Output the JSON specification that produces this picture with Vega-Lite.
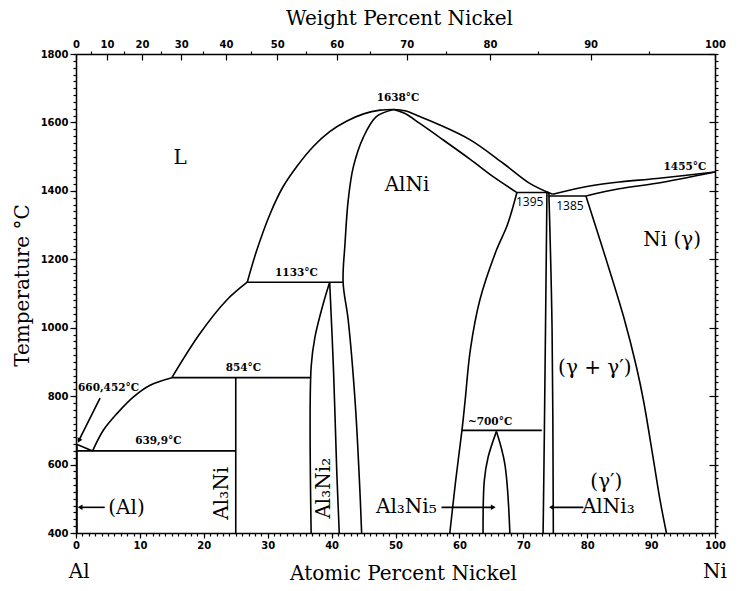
{
  "$schema": "https://vega.github.io/schema/vega-lite/v6.json",
  "width": 639,
  "height": 479,
  "autosize": {"type": "none"},
  "padding": {"left": 76, "top": 54, "right": 32, "bottom": 58},
  "background": "white",
  "config": {
    "view": {"stroke": null},
    "axis": {
      "grid": false,
      "domainColor": "black",
      "domainWidth": 1.5,
      "tickColor": "black",
      "tickWidth": 1.2,
      "labelColor": "black",
      "labelFont": "DejaVu Sans",
      "labelFontSize": 10,
      "labelFontWeight": "bold",
      "titleColor": "black",
      "titleFont": "DejaVu Serif",
      "titleFontSize": 20,
      "titleFontWeight": "normal"
    }
  },
  "datasets": {
    "lines": [
      {"s": "S1", "o": 1, "x": 0, "T": 660}, {"s": "S1", "o": 2, "x": 2.6, "T": 640},
      {"s": "S2", "o": 1, "x": 2.6, "T": 640}, {"s": "S2", "o": 2, "x": 4.3, "T": 701}, {"s": "S2", "o": 3, "x": 6.4, "T": 749}, {"s": "S2", "o": 4, "x": 9.0, "T": 798}, {"s": "S2", "o": 5, "x": 11.6, "T": 832}, {"s": "S2", "o": 6, "x": 15.0, "T": 854},
      {"s": "S3", "o": 1, "x": 15.0, "T": 854}, {"s": "S3", "o": 2, "x": 19.4, "T": 983}, {"s": "S3", "o": 3, "x": 23.6, "T": 1081}, {"s": "S3", "o": 4, "x": 26.8, "T": 1133},
      {"s": "S4", "o": 1, "x": 26.8, "T": 1133}, {"s": "S4", "o": 2, "x": 28.3, "T": 1227}, {"s": "S4", "o": 3, "x": 30.4, "T": 1334}, {"s": "S4", "o": 4, "x": 32.4, "T": 1412}, {"s": "S4", "o": 5, "x": 34.5, "T": 1470}, {"s": "S4", "o": 6, "x": 37.1, "T": 1529}, {"s": "S4", "o": 7, "x": 39.7, "T": 1573}, {"s": "S4", "o": 8, "x": 42.4, "T": 1604}, {"s": "S4", "o": 9, "x": 45.0, "T": 1625}, {"s": "S4", "o": 10, "x": 47.6, "T": 1636}, {"s": "S4", "o": 11, "x": 49.7, "T": 1638},
      {"s": "S5", "o": 1, "x": 49.7, "T": 1638}, {"s": "S5", "o": 2, "x": 51.5, "T": 1634}, {"s": "S5", "o": 3, "x": 53.8, "T": 1617}, {"s": "S5", "o": 4, "x": 56.4, "T": 1597}, {"s": "S5", "o": 5, "x": 61.7, "T": 1549}, {"s": "S5", "o": 6, "x": 66.9, "T": 1480}, {"s": "S5", "o": 7, "x": 71.0, "T": 1422}, {"s": "S5", "o": 8, "x": 74.6, "T": 1390},
      {"s": "S6", "o": 1, "x": 49.7, "T": 1638}, {"s": "S6", "o": 2, "x": 47.0, "T": 1617}, {"s": "S6", "o": 3, "x": 45.0, "T": 1558}, {"s": "S6", "o": 4, "x": 43.4, "T": 1470}, {"s": "S6", "o": 5, "x": 42.6, "T": 1373}, {"s": "S6", "o": 6, "x": 42.1, "T": 1246}, {"s": "S6", "o": 7, "x": 41.8, "T": 1133}, {"s": "S6", "o": 8, "x": 42.6, "T": 1022}, {"s": "S6", "o": 9, "x": 43.7, "T": 779}, {"s": "S6", "o": 10, "x": 44.4, "T": 535}, {"s": "S6", "o": 11, "x": 44.7, "T": 400},
      {"s": "S7", "o": 1, "x": 49.7, "T": 1638}, {"s": "S7", "o": 2, "x": 51.5, "T": 1626}, {"s": "S7", "o": 3, "x": 53.8, "T": 1597}, {"s": "S7", "o": 4, "x": 57.0, "T": 1555}, {"s": "S7", "o": 5, "x": 61.7, "T": 1492}, {"s": "S7", "o": 6, "x": 65.0, "T": 1445}, {"s": "S7", "o": 7, "x": 69.0, "T": 1395},
      {"s": "S8", "o": 1, "x": 26.8, "T": 1133}, {"s": "S8", "o": 2, "x": 41.8, "T": 1133},
      {"s": "S9", "o": 1, "x": 15.0, "T": 854}, {"s": "S9", "o": 2, "x": 36.8, "T": 854},
      {"s": "S10", "o": 1, "x": 0, "T": 640}, {"s": "S10", "o": 2, "x": 25, "T": 640},
      {"s": "S11", "o": 1, "x": 25, "T": 400}, {"s": "S11", "o": 2, "x": 25, "T": 854},
      {"s": "S12", "o": 1, "x": 0.15, "T": 400}, {"s": "S12", "o": 2, "x": 0.15, "T": 660},
      {"s": "S13", "o": 1, "x": 39.7, "T": 1133}, {"s": "S13", "o": 2, "x": 38.7, "T": 1071}, {"s": "S13", "o": 3, "x": 37.4, "T": 973}, {"s": "S13", "o": 4, "x": 36.8, "T": 886}, {"s": "S13", "o": 5, "x": 36.8, "T": 400},
      {"s": "S14", "o": 1, "x": 39.7, "T": 1133}, {"s": "S14", "o": 2, "x": 40.3, "T": 876}, {"s": "S14", "o": 3, "x": 40.8, "T": 584}, {"s": "S14", "o": 4, "x": 41.2, "T": 400},
      {"s": "S15", "o": 1, "x": 69.0, "T": 1395}, {"s": "S15", "o": 2, "x": 67.5, "T": 1300}, {"s": "S15", "o": 3, "x": 65.8, "T": 1227}, {"s": "S15", "o": 4, "x": 63.2, "T": 1081}, {"s": "S15", "o": 5, "x": 61.7, "T": 934}, {"s": "S15", "o": 6, "x": 60.9, "T": 788}, {"s": "S15", "o": 7, "x": 60.4, "T": 700}, {"s": "S15", "o": 8, "x": 59.4, "T": 550}, {"s": "S15", "o": 9, "x": 58.5, "T": 400},
      {"s": "S16", "o": 1, "x": 60.4, "T": 700}, {"s": "S16", "o": 2, "x": 72.9, "T": 700},
      {"s": "S17", "o": 1, "x": 65.8, "T": 697}, {"s": "S17", "o": 2, "x": 64.5, "T": 622}, {"s": "S17", "o": 3, "x": 63.9, "T": 554}, {"s": "S17", "o": 4, "x": 63.7, "T": 400},
      {"s": "S18", "o": 1, "x": 65.8, "T": 697}, {"s": "S18", "o": 2, "x": 67.1, "T": 603}, {"s": "S18", "o": 3, "x": 67.9, "T": 400},
      {"s": "S19", "o": 1, "x": 73.7, "T": 1395}, {"s": "S19", "o": 2, "x": 73.3, "T": 700}, {"s": "S19", "o": 3, "x": 73.1, "T": 400},
      {"s": "S20", "o": 1, "x": 74.0, "T": 1395}, {"s": "S20", "o": 2, "x": 74.5, "T": 1000}, {"s": "S20", "o": 3, "x": 74.7, "T": 400},
      {"s": "S21", "o": 1, "x": 69.0, "T": 1395}, {"s": "S21", "o": 2, "x": 74.0, "T": 1395},
      {"s": "S22", "o": 1, "x": 74.0, "T": 1385}, {"s": "S22", "o": 2, "x": 79.8, "T": 1385},
      {"s": "S23", "o": 1, "x": 74.6, "T": 1390}, {"s": "S23", "o": 2, "x": 80.4, "T": 1414}, {"s": "S23", "o": 3, "x": 85.0, "T": 1426}, {"s": "S23", "o": 4, "x": 90.9, "T": 1436}, {"s": "S23", "o": 5, "x": 100, "T": 1455},
      {"s": "S24", "o": 1, "x": 79.8, "T": 1385}, {"s": "S24", "o": 2, "x": 85.0, "T": 1406}, {"s": "S24", "o": 3, "x": 90.9, "T": 1422}, {"s": "S24", "o": 4, "x": 100, "T": 1455},
      {"s": "S25", "o": 1, "x": 79.8, "T": 1385}, {"s": "S25", "o": 2, "x": 82.5, "T": 1227}, {"s": "S25", "o": 3, "x": 85.7, "T": 1032}, {"s": "S25", "o": 4, "x": 87.7, "T": 886}, {"s": "S25", "o": 5, "x": 88.8, "T": 788}, {"s": "S25", "o": 6, "x": 90.3, "T": 622}, {"s": "S25", "o": 7, "x": 91.4, "T": 496}, {"s": "S25", "o": 8, "x": 92.4, "T": 400},
      {"s": "A1", "o": 1, "x": 3.76, "T": 794}, {"s": "A1", "o": 2, "x": 0.5, "T": 672},
      {"s": "A2", "o": 1, "x": 4.5, "T": 475}, {"s": "A2", "o": 2, "x": 0.6, "T": 475},
      {"s": "A3", "o": 1, "x": 57.2, "T": 475}, {"s": "A3", "o": 2, "x": 65.3, "T": 475},
      {"s": "A4", "o": 1, "x": 79.4, "T": 475}, {"s": "A4", "o": 2, "x": 74.4, "T": 475}
    ],
    "heads": [
      {"x": 0.45, "T": 670, "shape": "triangle-up", "a": 207},
      {"x": 0.65, "T": 475, "shape": "triangle-left", "a": 0},
      {"x": 65.3, "T": 475, "shape": "triangle-right", "a": 0},
      {"x": 74.4, "T": 475, "shape": "triangle-left", "a": 0}
    ],
    "dummy": [{"x": 0, "T": 400}],
    "phases": [
      {"t": "L", "x": 16.3, "T": 1496},
      {"t": "AlNi", "x": 51.8, "T": 1417},
      {"t": "Ni (γ)", "x": 93.3, "T": 1256},
      {"t": "(γ + γ′)", "x": 81.2, "T": 882},
      {"t": "(γ′)", "x": 83.0, "T": 550},
      {"t": "(Al)", "x": 7.9, "T": 472},
      {"t": "Al₃Ni₅", "x": 51.7, "T": 475},
      {"t": "AlNi₃", "x": 83.3, "T": 475},
      {"t": "Al", "x": 0.5, "T": 285},
      {"t": "Ni", "x": 100, "T": 285}
    ],
    "vert": [
      {"t": "Al₃Ni", "x": 22.8, "T": 516},
      {"t": "Al₃Ni₂", "x": 38.8, "T": 531}
    ],
    "temps": [
      {"t": "1638°C", "x": 50.4, "T": 1670},
      {"t": "1133°C", "x": 34.5, "T": 1159},
      {"t": "854°C", "x": 26.2, "T": 881},
      {"t": "639,9°C", "x": 12.9, "T": 669},
      {"t": "660,452°C", "x": 5.1, "T": 825},
      {"t": "~700°C", "x": 64.8, "T": 725},
      {"t": "1455°C", "x": 95.3, "T": 1470}
    ],
    "sans": [
      {"t": "1395", "x": 71.0, "T": 1368},
      {"t": "1385", "x": 77.3, "T": 1356}
    ]
  },
  "resolve": {"axis": {"x": "independent", "y": "independent"}},
  "layer": [
    {
      "data": {"name": "lines"},
      "mark": {"type": "line", "stroke": "black", "strokeWidth": 1.6, "clip": false, "interpolate": "catmull-rom"},
      "encoding": {
        "x": {"field": "x", "type": "quantitative", "scale": {"domain": [0, 100], "nice": false, "zero": false},
          "axis": {"orient": "bottom", "values": [0, 10, 20, 30, 40, 50, 60, 70, 80, 90, 100], "format": "d", "tickSize": 5, "labelPadding": 2, "title": "Atomic Percent Nickel", "titleX": 327, "titleY": 40, "titleAlign": "center", "titleBaseline": "middle", "labelFlush": false}},
        "y": {"field": "T", "type": "quantitative", "scale": {"domain": [400, 1800], "nice": false, "zero": false},
          "axis": {"orient": "left", "values": [400, 600, 800, 1000, 1200, 1400, 1600, 1800], "format": "d", "tickSize": 6, "labelPadding": 2, "title": "Temperature °C", "titleX": -54, "titleY": 231, "titleAngle": 270, "titleAlign": "center", "titleBaseline": "middle", "labelFlush": false}},
        "detail": {"field": "s"},
        "order": {"field": "o", "type": "quantitative"}
      }
    },
    {
      "data": {"name": "dummy"},
      "mark": {"type": "point", "opacity": 0},
      "encoding": {
        "x": {"field": "x", "type": "quantitative", "scale": {"domain": [0, 100], "nice": false, "zero": false},
          "axis": {"orient": "bottom", "tickCount": 100, "labels": false, "domain": false, "title": null, "tickSize": 3}},
        "y": {"field": "T", "type": "quantitative", "scale": {"domain": [400, 1800], "nice": false, "zero": false},
          "axis": {"orient": "left", "tickCount": 70, "labels": false, "domain": false, "title": null, "tickSize": 3}}
      }
    },
    {
      "data": {"name": "dummy"},
      "mark": {"type": "point", "opacity": 0},
      "encoding": {
        "x": {"field": "x", "type": "quantitative", "scale": {"domain": [0, 100], "nice": false, "zero": false},
          "axis": {"orient": "top", "values": [0, 4.86, 10.31, 16.46, 23.46, 31.49, 40.81, 51.75, 64.77, 80.53, 100], "labelExpr": "round(5869*datum.value/(58.69*datum.value+26.98*(100-datum.value)))", "ticks": false, "tickSize": 0, "labelPadding": 5, "labelFlush": false, "title": "Weight Percent Nickel", "titleX": 323, "titleY": -36, "titleAlign": "center", "titleBaseline": "middle"}},
        "y": {"field": "T", "type": "quantitative", "scale": {"domain": [400, 1800], "nice": false, "zero": false},
          "axis": {"orient": "right", "values": [400, 600, 800, 1000, 1200, 1400, 1600, 1800], "labels": false, "title": null, "tickSize": -6}}
      }
    },
    {
      "data": {"name": "dummy"},
      "mark": {"type": "point", "opacity": 0},
      "encoding": {
        "x": {"field": "x", "type": "quantitative", "scale": {"domain": [0, 100], "nice": false, "zero": false},
          "axis": {"orient": "top", "values": [0, 4.86, 10.31, 16.46, 23.46, 31.49, 40.81, 51.75, 64.77, 80.53, 100], "labels": false, "domain": false, "title": null, "tickSize": -6}},
        "y": {"field": "T", "type": "quantitative", "scale": {"domain": [400, 1800], "nice": false, "zero": false},
          "axis": {"orient": "right", "tickCount": 70, "labels": false, "domain": false, "title": null, "tickSize": 3}}
      }
    },
    {
      "data": {"name": "dummy"},
      "mark": {"type": "point", "opacity": 0},
      "encoding": {
        "x": {"field": "x", "type": "quantitative", "scale": {"domain": [0, 100], "nice": false, "zero": false},
          "axis": {"orient": "top", "values": [2.36, 7.50, 13.29, 19.84, 27.33, 35.97, 46.06, 57.97, 72.26, 89.73], "labels": false, "domain": false, "title": null, "tickSize": 3}}
      }
    },
    {
      "data": {"name": "heads"},
      "mark": {"type": "point", "filled": true, "color": "black", "size": 30, "opacity": 1},
      "encoding": {
        "x": {"field": "x", "type": "quantitative", "scale": {"domain": [0, 100], "nice": false, "zero": false}, "axis": null},
        "y": {"field": "T", "type": "quantitative", "scale": {"domain": [400, 1800], "nice": false, "zero": false}, "axis": null},
        "shape": {"field": "shape", "type": "nominal", "scale": null},
        "angle": {"field": "a", "type": "quantitative", "scale": null}
      }
    },
    {
      "data": {"name": "phases"},
      "mark": {"type": "text", "font": "DejaVu Serif", "fontSize": 20, "color": "black", "align": "center", "baseline": "middle"},
      "encoding": {
        "x": {"field": "x", "type": "quantitative", "scale": {"domain": [0, 100], "nice": false, "zero": false}, "axis": null},
        "y": {"field": "T", "type": "quantitative", "scale": {"domain": [400, 1800], "nice": false, "zero": false}, "axis": null},
        "text": {"field": "t"}
      }
    },
    {
      "data": {"name": "vert"},
      "mark": {"type": "text", "font": "DejaVu Serif", "fontSize": 20, "color": "black", "align": "center", "baseline": "middle", "angle": 270},
      "encoding": {
        "x": {"field": "x", "type": "quantitative", "scale": {"domain": [0, 100], "nice": false, "zero": false}, "axis": null},
        "y": {"field": "T", "type": "quantitative", "scale": {"domain": [400, 1800], "nice": false, "zero": false}, "axis": null},
        "text": {"field": "t"}
      }
    },
    {
      "data": {"name": "temps"},
      "mark": {"type": "text", "font": "DejaVu Serif", "fontSize": 10.5, "fontWeight": "bold", "color": "black", "align": "center", "baseline": "middle"},
      "encoding": {
        "x": {"field": "x", "type": "quantitative", "scale": {"domain": [0, 100], "nice": false, "zero": false}, "axis": null},
        "y": {"field": "T", "type": "quantitative", "scale": {"domain": [400, 1800], "nice": false, "zero": false}, "axis": null},
        "text": {"field": "t"}
      }
    },
    {
      "data": {"name": "sans"},
      "mark": {"type": "text", "font": "Open Sans", "fontSize": 12, "color": "black", "align": "center", "baseline": "middle"},
      "encoding": {
        "x": {"field": "x", "type": "quantitative", "scale": {"domain": [0, 100], "nice": false, "zero": false}, "axis": null},
        "y": {"field": "T", "type": "quantitative", "scale": {"domain": [400, 1800], "nice": false, "zero": false}, "axis": null},
        "text": {"field": "t"}
      }
    }
  ]
}
